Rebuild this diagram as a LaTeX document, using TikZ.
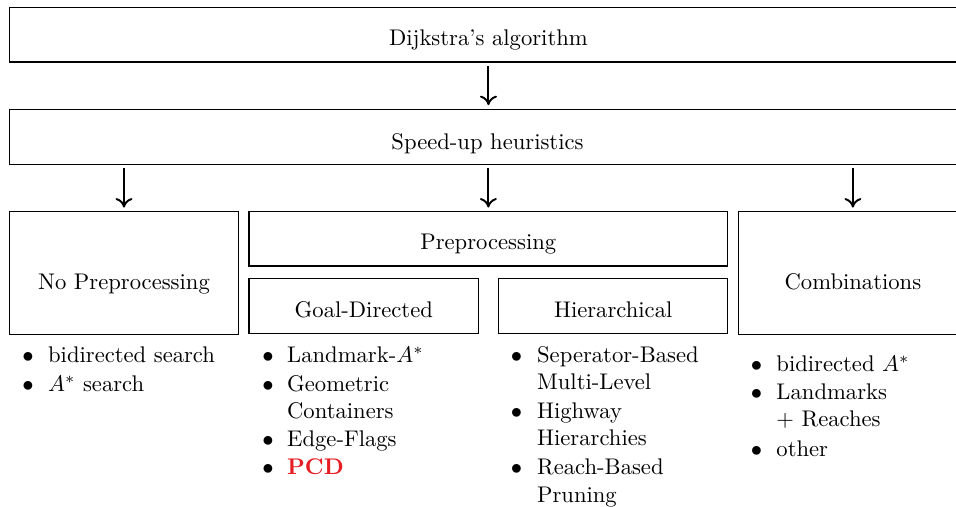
\documentclass[tikz,border=0pt]{standalone}
\usetikzlibrary{fit,arrows.meta}
\definecolor{pcdred}{RGB}{230,30,36}
\tikzset{
  box/.style={draw, line width=0.45pt, inner sep=0pt, rectangle},
  lbl/.style={anchor=base, inner sep=0pt},
  bul/.style={anchor=base, inner sep=0pt},
  itm/.style={anchor=base west, inner sep=0pt},
  arr/.style={line width=0.85pt, -{Computer Modern Rightarrow[width=7.5pt,length=4.2pt]}, shorten <=1.6pt, shorten >=1.6pt},
}
\begin{document}
\begin{tikzpicture}[x=0.4419pt,y=-0.4419pt]
\useasboundingbox (0,0) rectangle (956,507);
\clip (0,0) rectangle (956,507);
% boxes
\node[box, fit={(9.3,7.3) (967.6,62)}] (dij) {};
\node[box, fit={(9.3,109.3) (967.6,164.3)}] (speed) {};
\node[box, fit={(9.3,211.7) (238.7,334.7)}] (nopre) {};
\node[box, fit={(249,211.7) (727.7,266)}] (prepro) {};
\node[box, fit={(249,278.5) (478.7,333.3)}] (goal) {};
\node[box, fit={(498.7,278.5) (727.7,333.3)}] (hier) {};
\node[box, fit={(738.2,211.7) (967.6,334.7)}] (comb) {};
% labels
\node[lbl] (tdij) at (488.4,46) {Dijkstra's algorithm};
\node[lbl] (tspeed) at (487.5,150) {Speed-up heuristics};
\node[lbl] (tnopre) at (124,290) {No Preprocessing};
\node[lbl] (tprepro) at (488.3,250) {Preprocessing};
\node[lbl] (tgoal) at (363.8,317.3) {Goal-Directed};
\node[lbl] (thier) at (613.2,317.3) {Hierarchical};
\node[lbl] (tcomb) at (852.9,289.5) {Combinations};
% arrows
\draw[arr] (dij.south) -- (speed.north);
\draw[arr] (speed.south -| nopre.north) -- (nopre.north);
\draw[arr] (speed.south -| prepro.north) -- (prepro.north);
\draw[arr] (speed.south -| comb.north) -- (comb.north);
% list: no preprocessing
\node[bul] (b11) at (28,363) {$\bullet$};
\node[itm] (i11) at (47.7,363) {bidirected search};
\node[bul] (b12) at (28,392) {$\bullet$};
\node[itm] (i12) at (47.7,392) {$A^*$ search};
% list: goal-directed
\node[bul] (b21) at (268,363) {$\bullet$};
\node[itm] (i21) at (286.7,363) {Landmark-$A^*$};
\node[bul] (b22) at (268,392) {$\bullet$};
\node[itm] (i22) at (286.7,392) {Geometric};
\node[itm] (i22b) at (286.7,419) {Containers};
\node[bul] (b23) at (268,447) {$\bullet$};
\node[itm] (i23) at (286.7,447) {Edge-Flags};
\node[bul] (b24) at (268,475) {$\bullet$};
\node[itm] (i24) at (286.7,475) {\textcolor{pcdred}{\textbf{PCD}}};
% list: hierarchical
\node[bul] (b31) at (516.5,363) {$\bullet$};
\node[itm] (i31) at (536.7,363) {Seperator-Based};
\node[itm] (i31b) at (536.7,390) {Multi-Level};
\node[bul] (b32) at (516.5,419) {$\bullet$};
\node[itm] (i32) at (536.7,419) {Highway};
\node[itm] (i32b) at (536.7,446) {Hierarchies};
\node[bul] (b33) at (516.5,475) {$\bullet$};
\node[itm] (i33) at (536.7,475) {Reach-Based};
\node[itm] (i33b) at (536.7,502) {Pruning};
% list: combinations
\node[bul] (b41) at (756.5,372) {$\bullet$};
\node[itm] (i41) at (776,372) {bidirected $A^*$};
\node[bul] (b42) at (756.5,400) {$\bullet$};
\node[itm] (i42) at (776,400) {Landmarks};
\node[itm] (i42b) at (776,427) {$+$ Reaches};
\node[bul] (b43) at (756.5,456) {$\bullet$};
\node[itm] (i43) at (776,456) {other};
\end{tikzpicture}
\end{document}
